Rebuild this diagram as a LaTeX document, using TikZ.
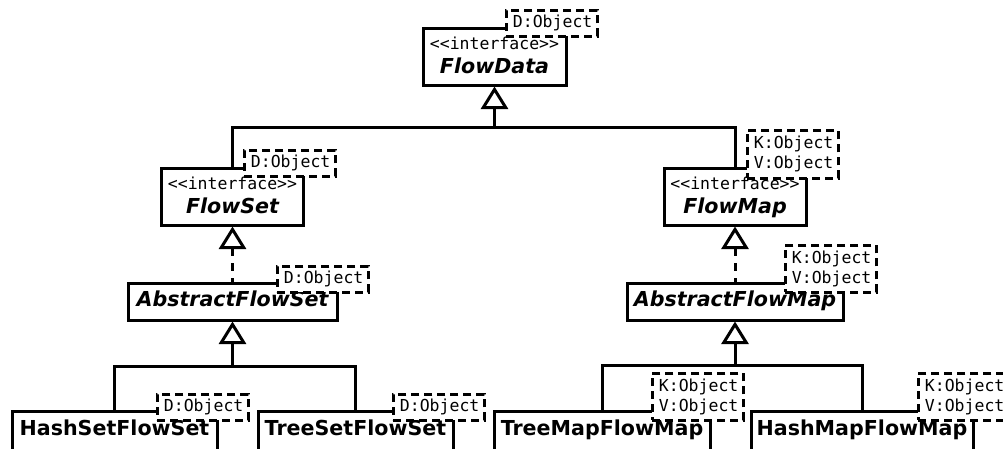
\documentclass[tikz,border=0pt]{standalone}
\usepackage{fontspec}
\setsansfont{DejaVu Sans}
\setmonofont{DejaVu Sans Mono}
\usetikzlibrary{arrows.meta,calc}

% fonts of the class diagram
\newcommand\umlmono{\ttfamily\fontsize{16.5}{20}\selectfont}
\newcommand\umlname{\sffamily\bfseries\fontsize{20.6}{24}\selectfont}
\newcommand\umlabstract{\sffamily\bfseries\itshape\fontsize{20.6}{24}\selectfont}

\tikzset{
  umlclass/.style={draw, rectangle, line width=3pt, fill=white, inner sep=0pt},
  umlabs/.style={umlclass, minimum height=37pt, font=\umlabstract,
    text height=15.4pt, text depth=5.6pt},
  umlconc/.style={umlclass, minimum height=39pt, font=\umlname,
    text height=15pt, text depth=6pt},
  umltext/.style={anchor=base, inner sep=0pt},
  umltmpl/.style={draw, rectangle, line width=2.8pt, dash pattern=on 8pt off 5pt,
    fill=white, anchor=north west, inner xsep=6.5pt, inner ysep=4pt,
    text width=78pt, align=left, font=\umlmono},
  umlline/.style={line width=3pt},
  umlgen/.style={umlline, {Triangle[open, length=22.5pt, width=27pt]}-},
  umlreal/.style={umlgen, dash pattern=on 8pt off 7pt},
}

\begin{document}
\begin{tikzpicture}[x=1pt, y=-1pt]
\useasboundingbox (0,0) rectangle (1003,448);
\clip (0,0) rectangle (1003,448);

% interfaces
\node[umlclass, minimum width=143pt, minimum height=57pt] (flowdata) at (494.5,56.5) {};
\node[umltext, font=\umlmono] (flowdata-st) at ($(flowdata.north)+(0,22.5)$) {<<interface>>};
\node[umltext, font=\umlabstract] (flowdata-nm) at ($(flowdata.north)+(0,46.8)$) {FlowData};

\node[umlclass, minimum width=142pt, minimum height=57pt] (flowset) at (232.5,196.5) {};
\node[umltext, font=\umlmono] (flowset-st) at ($(flowset.north)+(0,22.5)$) {<<interface>>};
\node[umltext, font=\umlabstract] (flowset-nm) at ($(flowset.north)+(0,46.8)$) {FlowSet};

\node[umlclass, minimum width=142pt, minimum height=57pt] (flowmap) at (735,196.5) {};
\node[umltext, font=\umlmono] (flowmap-st) at ($(flowmap.north)+(0,22.5)$) {<<interface>>};
\node[umltext, font=\umlabstract] (flowmap-nm) at ($(flowmap.north)+(0,46.8)$) {FlowMap};

% abstract classes
\node[umlabs, minimum width=209pt] (absset) at (232.5,301.5) {AbstractFlowSet};
\node[umlabs, minimum width=216pt] (absmap) at (735,301.5) {AbstractFlowMap};

% concrete classes
\node[umlconc, minimum width=205pt] (hashset) at (114.5,430.5) {HashSetFlowSet};
\node[umlconc, minimum width=195pt] (treeset) at (355.5,430.5) {TreeSetFlowSet};
\node[umlconc, minimum width=216pt] (treemap) at (602,430.5) {TreeMapFlowMap};
\node[umlconc, minimum width=222pt] (hashmap) at (862,430.5) {HashMapFlowMap};

% template parameters
\node[umltmpl, minimum height=26pt] (flowdata-t) at (505,9) {D:Object};
\node[umltmpl, minimum height=26pt] (flowset-t) at (243,149) {D:Object};
\node[umltmpl, minimum height=48pt] (flowmap-t) at (746,129) {K:Object\\V:Object};
\node[umltmpl, minimum height=26pt] (absset-t) at (276,265) {D:Object};
\node[umltmpl, minimum height=47pt] (absmap-t) at (784,244) {K:Object\\V:Object};
\node[umltmpl, minimum height=26pt] (hashset-t) at (156,393) {D:Object};
\node[umltmpl, minimum height=26pt] (treeset-t) at (392,393) {D:Object};
\node[umltmpl, minimum height=47pt] (treemap-t) at (651,372) {K:Object\\V:Object};
\node[umltmpl, minimum height=47pt] (hashmap-t) at (917,372) {K:Object\\V:Object};

% generalizations and realizations
\draw[umlgen] (flowdata.south) -- ++(0,41) coordinate (fdjoin) -| (flowset.north);
\draw[umlline] (fdjoin) -| (flowmap.north);

\draw[umlreal] (flowset.south) -- (absset.north);
\draw[umlreal] (flowmap.south) -- (absmap.north);

\draw[umlgen] (absset.south) -- ++(0,45) coordinate (asjoin) -| (hashset.north);
\draw[umlline] (asjoin) -| (treeset.north);

\draw[umlgen] (absmap.south) -- ++(0,44) coordinate (amjoin) -| (treemap.north);
\draw[umlline] (amjoin) -| (hashmap.north);
\end{tikzpicture}
\end{document}
